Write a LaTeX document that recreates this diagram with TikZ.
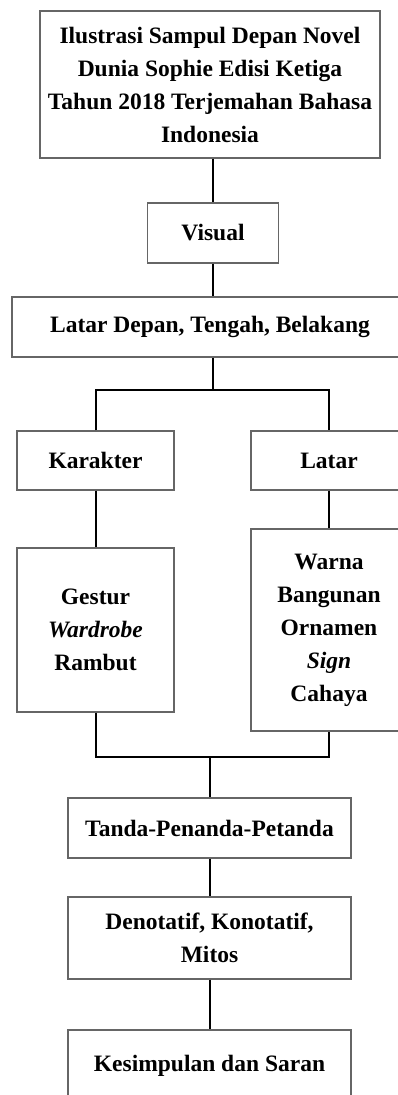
\documentclass[tikz,border=0pt]{standalone}
\usepackage{fontspec}
\setmainfont{Liberation Serif}
\usetikzlibrary{positioning}

\begin{document}
\begin{tikzpicture}[
x=1pt,y=-1pt,
MyBox/.style={draw=black!60,line width=1.2pt,fill=white,align=center,inner sep=0pt,
  font=\fontsize{23.5}{33}\selectfont\bfseries},
Links/.style={draw=black,line width=2pt}
]
\useasboundingbox (0,0) rectangle (398,1095);
\clip (0,0) rectangle (398,1095);

% boxes (centres in pixels, y going down)
\coordinate (P1) at (210,84.5);
\coordinate (P2) at (213,233);
\coordinate (P3) at (210,327);
\coordinate (P4) at (95.5,460.5);
\coordinate (P5) at (329,460.5);
\coordinate (P6) at (95.5,630);
\coordinate (P7) at (329,630);
\coordinate (P8) at (209.5,828);
\coordinate (P9) at (209.5,938);
\coordinate (P10) at (209.5,1066);

\node[MyBox,minimum width=340,minimum height=147] (sampul) at (P1)
  {Ilustrasi Sampul Depan Novel\\Dunia Sophie Edisi Ketiga\\Tahun 2018 Terjemahan Bahasa\\Indonesia};
\node[MyBox,minimum width=131,minimum height=60] (visual) at (P2) {Visual};
\node[MyBox,minimum width=396,minimum height=60] (latardepan) at (P3) {Latar Depan, Tengah, Belakang};
\node[MyBox,minimum width=157,minimum height=59] (karakter) at (P4) {Karakter};
\node[MyBox,minimum width=156,minimum height=59] (latar) at (P5) {Latar};
\node[MyBox,minimum width=157,minimum height=164] (gestur) at (P6)
  {Gestur\\\textit{Wardrobe}\\Rambut};
\node[MyBox,minimum width=156,minimum height=202] (warna) at (P7)
  {Warna\\Bangunan\\Ornamen\\\textit{Sign}\\Cahaya};
\node[MyBox,minimum width=283,minimum height=60] (tanda) at (P8) {Tanda-Penanda-Petanda};
\node[MyBox,minimum width=283,minimum height=82] (denotatif) at (P9)
  {Denotatif, Konotatif,\\Mitos};
\node[MyBox,minimum width=283,minimum height=72] (kesimpulan) at (P10) {Kesimpulan dan Saran};

% branch and join points
\coordinate (Split) at (213,390);
\coordinate (Join) at (209.5,757);

\draw[Links] (sampul.south -| visual.north) -- (visual.north);
\draw[Links] (visual.south) -- (visual.south |- latardepan.north);
\draw[Links] (latardepan.south -| visual.south) -- (Split);
\draw[Links] (karakter.north) |- (Split) -| (latar.north);
\draw[Links] (karakter.south) -- (gestur.north);
\draw[Links] (latar.south) -- (warna.north);
\draw[Links] (gestur.south) |- (Join) -| (warna.south);
\draw[Links] (Join) -- (tanda.north);
\draw[Links] (tanda.south) -- (denotatif.north);
\draw[Links] (denotatif.south) -- (kesimpulan.north);

\end{tikzpicture}
\end{document}
